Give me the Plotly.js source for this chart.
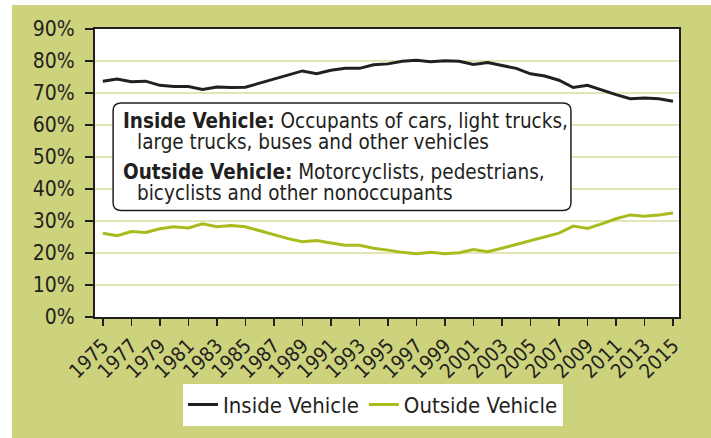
<!DOCTYPE html>
<html>
<head>
<meta charset="utf-8">
<script src="https://cdn.plot.ly/plotly-3.0.1.min.js"></script>
<style>
  html, body { margin: 0; padding: 0; background: #ffffff; }
  #chart { position: absolute; left: 12px; top: 5px; width: 699px; height: 433px; }
  text, tspan { font-stretch: condensed !important; }
</style>
</head>
<body>
<div id="chart"></div>
<script>
const years = [];
for (let y = 1975; y <= 2015; y++) years.push(y);

const insideVehicle = [
  73.7, 74.4, 73.5, 73.7, 72.4, 72.0, 72.0, 71.1, 71.9, 71.7,
  71.8, 73.1, 74.5, 75.6, 76.9, 76.0, 77.1, 77.7, 77.7, 78.8,
  79.1, 79.9, 80.2, 79.8, 80.1, 79.9, 78.9, 79.5, 78.5, 77.7,
  76.0, 75.3, 74.0, 71.7, 72.4, 70.9, 69.5, 68.2, 68.4, 68.2,
  67.4
];
const outsideVehicle = [
  26.2, 25.4, 26.7, 26.4, 27.6, 28.2, 27.8, 29.1, 28.2, 28.6,
  28.2, 26.9, 25.7, 24.5, 23.5, 23.9, 23.1, 22.4, 22.4, 21.5,
  20.9, 20.2, 19.8, 20.2, 19.8, 20.1, 21.1, 20.4, 21.5, 22.7,
  24.0, 25.0, 26.2, 28.4, 27.7, 29.1, 30.7, 31.9, 31.5, 31.9,
  32.5
];
const xTicks = years.filter(y => (y - 1975) % 2 === 0);
const yTicks = [0, 10, 20, 30, 40, 50, 60, 70, 80, 90];

const font = '"DejaVu Sans", sans-serif';
const ink = '#231f20';
const green = '#a9bb1d';

const traces = [
  {
    x: years, y: insideVehicle, name: 'Inside Vehicle', type: 'scatter', mode: 'lines',
    line: { color: ink, width: 3 }
  },
  {
    x: years, y: outsideVehicle, name: 'Outside Vehicle', type: 'scatter', mode: 'lines',
    line: { color: green, width: 3 }
  }
];

// rounded box behind the note
const bx0 = 0.031, bx1 = 0.815, by0 = 0.37, by1 = 0.743, rx = 0.014, ry = 0.027;
const boxPath = `M ${bx0 + rx} ${by1} L ${bx1 - rx} ${by1} Q ${bx1} ${by1} ${bx1} ${by1 - ry} ` +
  `L ${bx1} ${by0 + ry} Q ${bx1} ${by0} ${bx1 - rx} ${by0} L ${bx0 + rx} ${by0} ` +
  `Q ${bx0} ${by0} ${bx0} ${by0 + ry} L ${bx0} ${by1 - ry} Q ${bx0} ${by1} ${bx0 + rx} ${by1} Z`;

const noteFont = { family: font, size: 20.5, color: ink };
const note = (text, x, y) => ({
  xref: 'paper', yref: 'paper', x, y, xanchor: 'left', yanchor: 'middle',
  text, showarrow: false, font: noteFont
});

const layout = {
  paper_bgcolor: '#cdd27c',
  plot_bgcolor: '#ffffff',
  margin: { l: 83, r: 33, t: 24, b: 109 },
  font: { family: font, color: ink, size: 21 },
  showlegend: true,
  legend: {
    orientation: 'h', x: 0.476, xanchor: 'center', y: -0.232, yanchor: 'top',
    bgcolor: '#ffffff', font: { family: font, size: 22, color: ink },
    itemwidth: 30, tracegroupgap: 0
  },
  xaxis: {
    range: [1974.45, 2015.42],
    tickvals: xTicks,
    ticktext: xTicks.map(String),
    tickangle: -45,
    ticks: 'outside', ticklen: 7, tickwidth: 1.5, tickcolor: ink,
    showgrid: false, zeroline: false,
    showline: true, linecolor: ink, linewidth: 2, mirror: true,
    tickfont: { family: font, size: 20, color: ink }
  },
  yaxis: {
    range: [0, 90],
    tickvals: yTicks,
    ticktext: yTicks.map(v => v + '%'),
    ticks: 'outside', ticklen: 8, tickwidth: 1.5, tickcolor: ink,
    ticklabelstandoff: 6,
    showgrid: true, gridcolor: '#e2e6b6', gridwidth: 2,
    zeroline: false,
    showline: true, linecolor: ink, linewidth: 2, mirror: true,
    tickfont: { family: font, size: 21, color: ink }
  },
  shapes: [
    { type: 'path', xref: 'paper', yref: 'paper', path: boxPath,
      fillcolor: '#ffffff', line: { color: ink, width: 1.5 } }
  ],
  annotations: [
    note('<b>Inside Vehicle:</b> Occupants of cars, light trucks,', 0.045, 0.68),
    note('large trucks, buses and other vehicles', 0.069, 0.607),
    note('<b>Outside Vehicle:</b> Motorcyclists, pedestrians,', 0.045, 0.503),
    note('bicyclists and other nonoccupants', 0.069, 0.43)
  ]
};

Plotly.newPlot('chart', traces, layout, { displayModeBar: false, staticPlot: true });
</script>
</body>
</html>
